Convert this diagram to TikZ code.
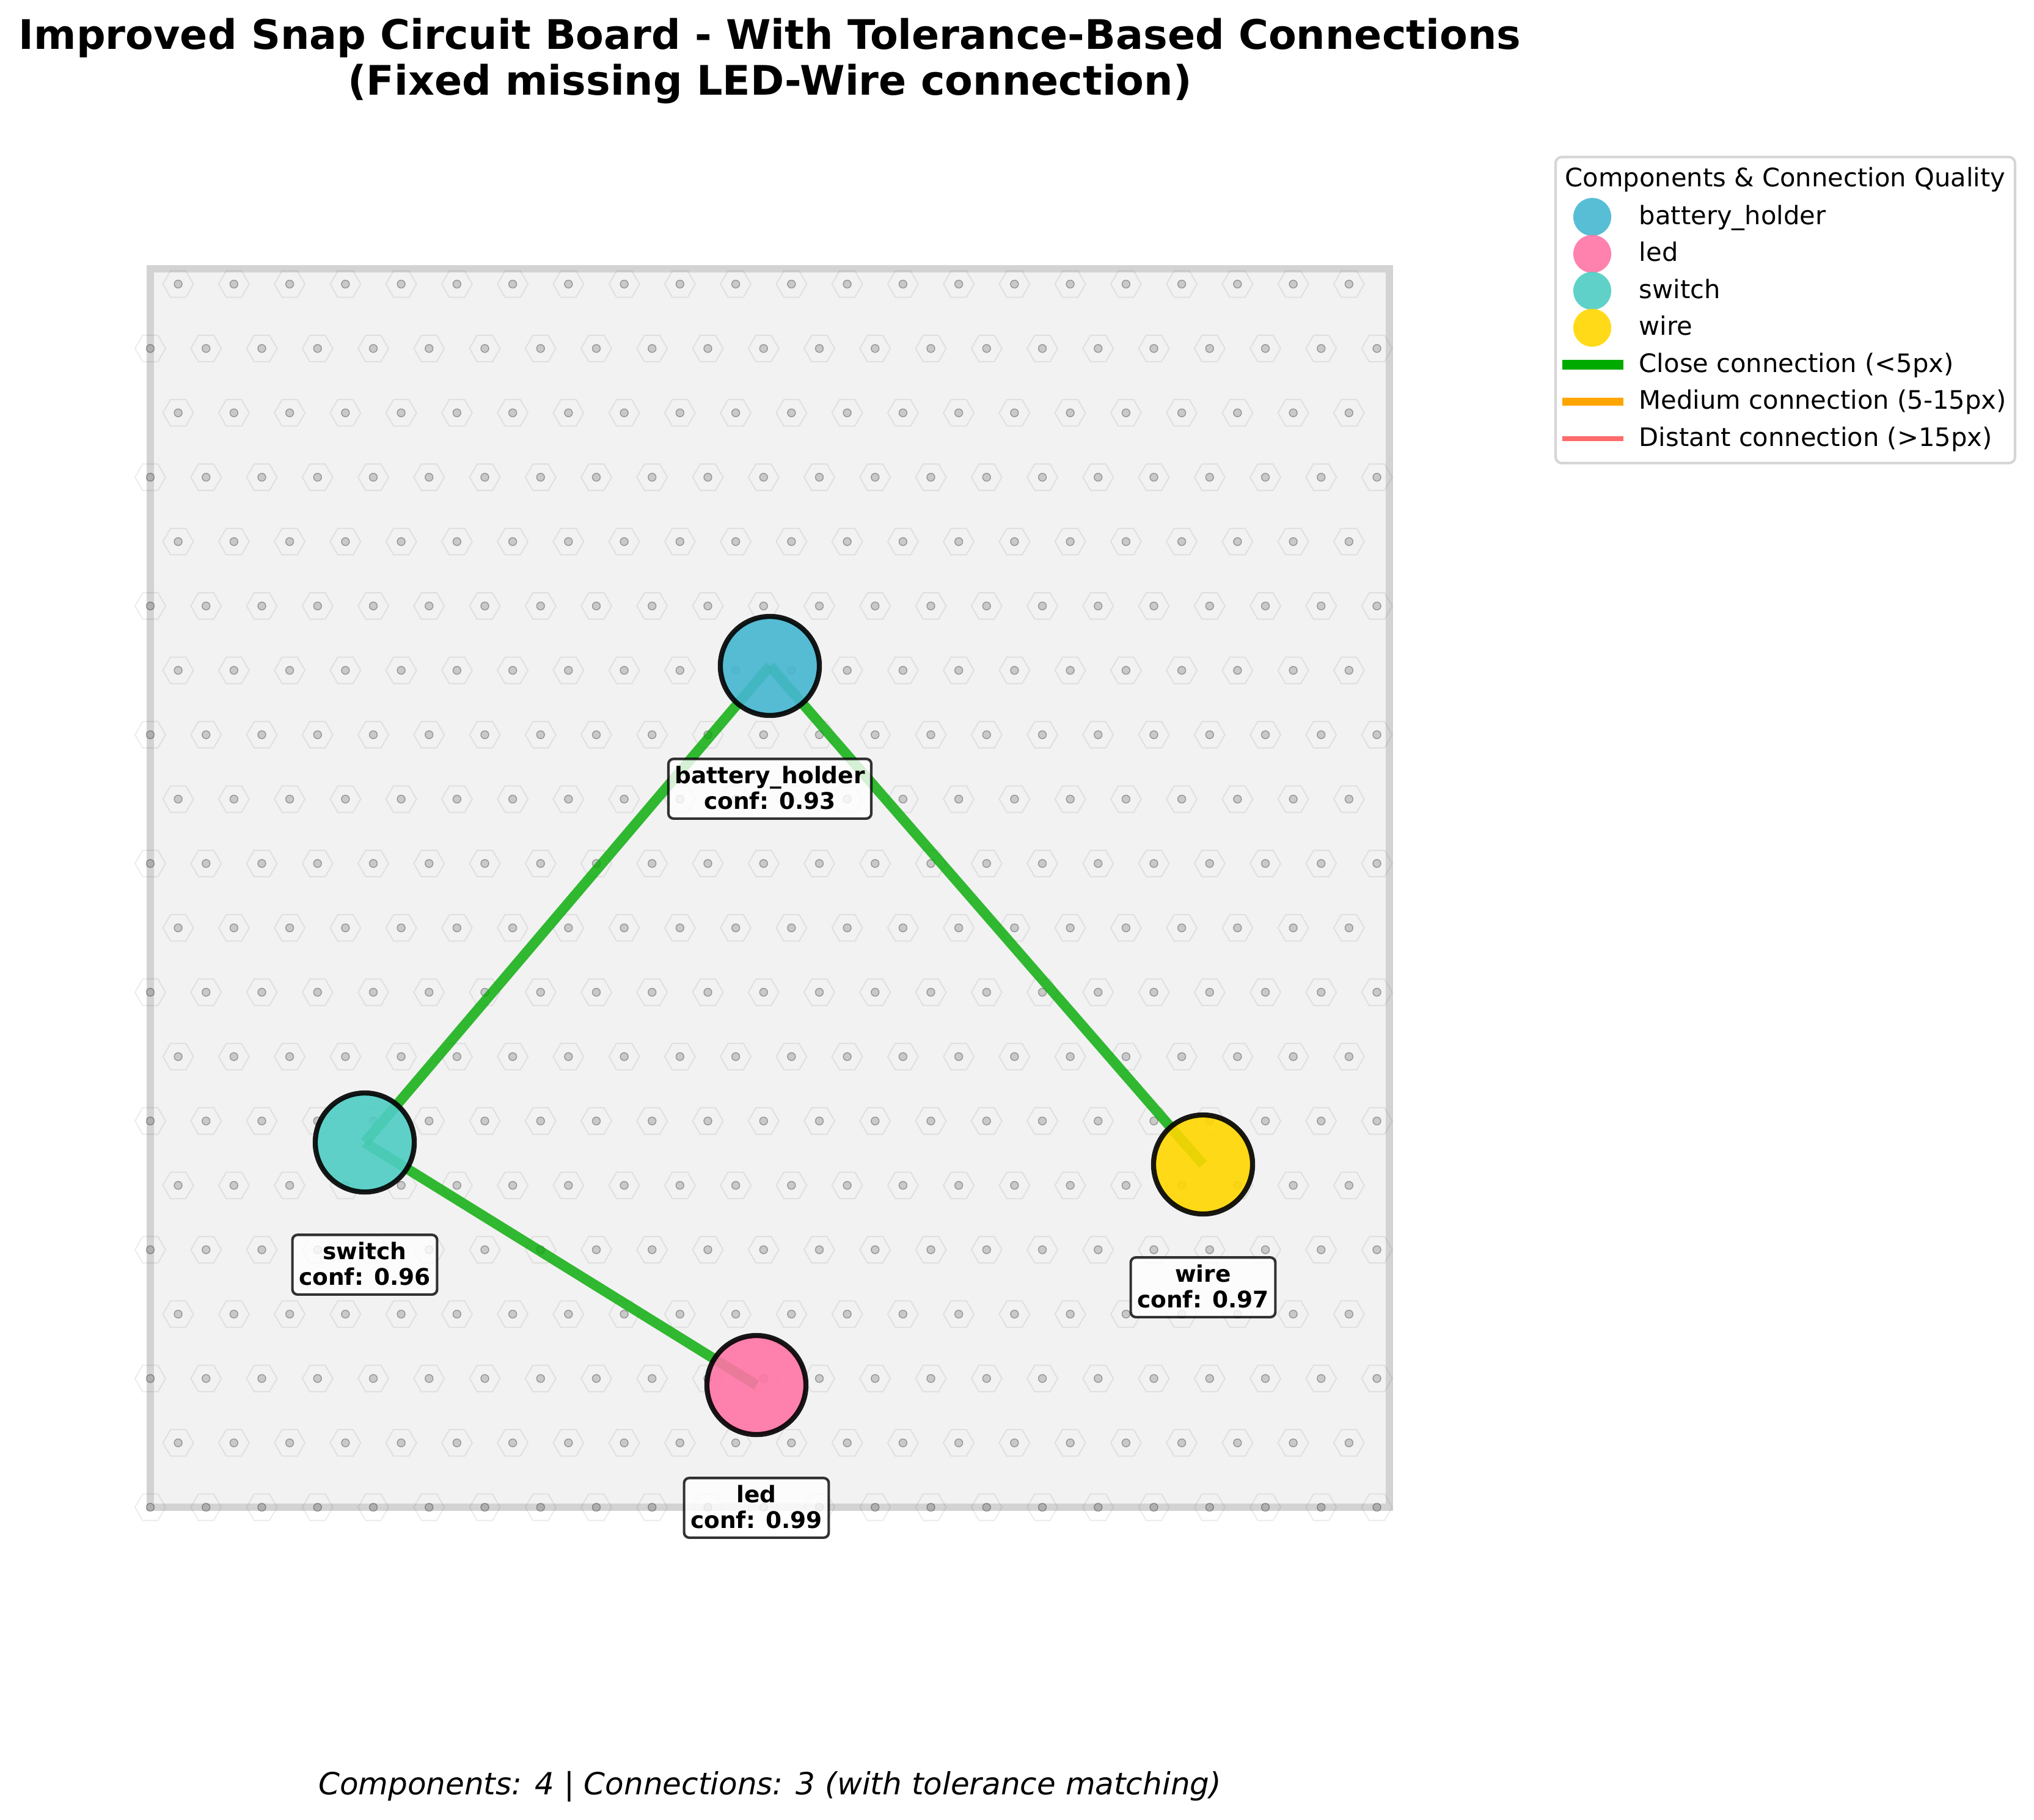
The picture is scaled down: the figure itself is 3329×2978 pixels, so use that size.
\documentclass[tikz,border=0pt]{standalone}
\usepackage{fontspec}
\setmainfont{DejaVu Sans}
\usepackage{tikz}
\usetikzlibrary{calc}

\pgfdeclarelayer{board}
\pgfdeclarelayer{wires}
\pgfsetlayers{board,wires,main}

\definecolor{cbattery}{HTML}{45B7D1}
\definecolor{cled}{HTML}{FF74A6}
\definecolor{cswitch}{HTML}{4ECDC4}
\definecolor{cwire}{HTML}{FFD700}
\definecolor{closegreen}{HTML}{00AA00}
\definecolor{mediumorange}{HTML}{FFA500}
\definecolor{distantred}{HTML}{FF6B6B}
\definecolor{boardfill}{HTML}{F2F2F2}
\definecolor{boardrim}{HTML}{D3D3D3}
\definecolor{legendrim}{HTML}{D6D6D6}

\begin{document}
\begin{tikzpicture}[x=0.24pt,y=-0.24pt,
    part/.style={circle,draw=black,fill=#1,opacity=0.9,line width=2pt,minimum size=38.9pt,inner sep=0pt},
    tag/.style={draw=black,draw opacity=0.8,line width=1pt,fill=white,fill opacity=0.8,text opacity=1,
      rounded corners=2pt,align=center,inner xsep=2.5pt,inner ysep=2.8pt,text depth=1pt,
      font=\fontsize{9}{10}\selectfont\bfseries},
    link/.style={draw=closegreen,draw opacity=0.8,line width=4pt,line cap=butt},
    hexrim/.style={draw=black,draw opacity=0.07,line width=0.5pt},
    hole/.style={fill=black,fill opacity=0.17,draw=black,draw opacity=0.3,line width=0.35pt},
    legtext/.style={anchor=base west,inner sep=0pt,font=\fontsize{10}{12}\selectfont}]

  \useasboundingbox (0,0) rectangle (3329,2978);

  % board with snap grid
  \begin{pgfonlayer}{board}
    \draw [fill=boardfill,draw=boardrim,line width=3pt] (246,440) rectangle (2274,2467);
    \foreach \r in {0,...,19} {
      \pgfmathsetmacro\rowy{465+105.37*\r}
      \ifodd\r\relax \def\rowx{246}\def\ncol{22}\else \def\rowx{291.6}\def\ncol{21}\fi
      \foreach \k in {0,...,\ncol} {
        \pgfmathsetmacro\holex{\rowx+91.25*\k}
        \draw [hexrim] (\holex,\rowy) +(0:25) -- +(60:25) -- +(120:25) -- +(180:25) -- +(240:25) -- +(300:25) -- cycle;
        \filldraw [hole] (\holex,\rowy) circle [radius=1.56pt];
      }
    }
  \end{pgfonlayer}

  \node [anchor=base,font=\fontsize{16}{18}\selectfont\bfseries] (title) at (1260,80)
    {Improved Snap Circuit Board - With Tolerance-Based Connections};
  \node [anchor=base,font=\fontsize{16}{18}\selectfont\bfseries] (subtitle) at (1260,155)
    {(Fixed missing LED-Wire connection)};

  % components
  \node [part=cbattery] (Cbattery) at (1260,1090) {};
  \node [part=cswitch]  (Cswitch)  at (597,1870) {};
  \node [part=cled]     (Cled)     at (1238,2267) {};
  \node [part=cwire]    (Cwire)    at (1969,1906) {};

  \node [tag] (Lbattery) at ($(Cbattery)+(0,201)$) {battery\_holder\\conf: 0.93};
  \node [tag] (Lswitch)  at ($(Cswitch)+(0,200)$)  {switch\\conf: 0.96};
  \node [tag] (Lled)     at ($(Cled)+(0,201)$)     {led\\conf: 0.99};
  \node [tag] (Lwire)    at ($(Cwire)+(0,201)$)    {wire\\conf: 0.97};

  \begin{pgfonlayer}{wires}
    \path [link]
      (Cswitch.center)  edge (Cbattery.center)
      (Cbattery.center) edge (Cwire.center)
      (Cswitch.center)  edge (Cled.center);
  \end{pgfonlayer}

  % legend
  \draw [draw=legendrim,line width=1pt,fill=white,rounded corners=2.4pt] (2546,257) rectangle (3298,758);
  \node [anchor=base,font=\fontsize{10}{12}\selectfont] (legtitle) at (2922,305) {Components \& Connection Quality};
  \foreach \nm/\col [count=\i from 0] in {battery\_holder/cbattery,led/cled,switch/cswitch,wire/cwire} {
    \pgfmathsetmacro\ly{355+60.5*\i}
    \node [circle,fill=\col,opacity=0.9,minimum size=14.9pt,inner sep=0pt] (legmark\i) at (2606,\ly) {};
    \node [legtext] (legtext\i) at (2682,\ly+12) {\nm};
  }
  \foreach \col/\lw/\nm [count=\i from 4] in {closegreen/4pt/Close connection (<5px),
      mediumorange/3pt/Medium connection (5-15px),distantred/2pt/Distant connection (>15px)} {
    \pgfmathsetmacro\ly{355+60.5*\i}
    \draw [draw=\col,line width=\lw] (2557,\ly) -- (2657,\ly);
    \node [legtext] (legtext\i) at (2682,\ly+12) {\nm};
  }

  \node [anchor=base,font=\fontsize{12}{14}\selectfont\itshape] (summary) at (1260,2937)
    {Components: 4 | Connections: 3 (with tolerance matching)};

\end{tikzpicture}
\end{document}
